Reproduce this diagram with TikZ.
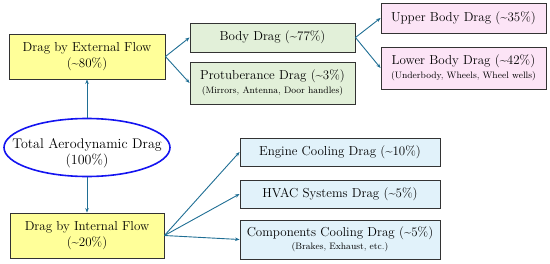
\documentclass[tikz,border=0pt]{standalone}
\usetikzlibrary{arrows.meta,shapes.geometric}
\definecolor{arr}{HTML}{1F6E94}
\definecolor{yel}{HTML}{FFFF99}
\definecolor{grn}{HTML}{E2F0D9}
\definecolor{pnk}{HTML}{FCE4F6}
\definecolor{blu}{HTML}{E1F2FA}
\definecolor{bdr}{HTML}{333333}
\definecolor{ell}{HTML}{1414F0}
\begin{document}
\begin{tikzpicture}[x=1pt,y=-1pt,
  box/.style={draw=bdr,line width=0.9pt,rectangle,inner sep=0pt,align=center,font=\fontsize{13}{16.5}\selectfont},
  ybox/.style={box,fill=yel},
  gbox/.style={box,fill=grn},
  pbox/.style={box,fill=pnk},
  bbox/.style={box,fill=blu},
  conn/.style={draw=arr,line width=0.9pt,-{Stealth[length=4.5pt,width=3.5pt]}}]
\newcommand{\smalltxt}{\fontsize{9.3}{11}\selectfont}
\useasboundingbox (0,0) rectangle (550,263);
\node[ybox,minimum width=156pt,minimum height=45pt] (ext) at (87,56.5) {Drag by External Flow\\(\textasciitilde80\%)};
\node[gbox,minimum width=165pt,minimum height=29pt] (body) at (272.5,37.5) {Body Drag (\textasciitilde77\%)};
\node[gbox,minimum width=165pt,minimum height=42pt] (prot) at (272.5,83) {Protuberance Drag (\textasciitilde3\%)\\[-3pt]{\smalltxt(Mirrors, Antenna, Door handles)}};
\node[pbox,minimum width=165pt,minimum height=30pt] (upper) at (463.5,18) {Upper Body Drag (\textasciitilde35\%)};
\node[pbox,minimum width=165pt,minimum height=42pt] (lower) at (463.5,68) {Lower Body Drag (\textasciitilde42\%)\\[-3pt]{\smalltxt(Underbody, Wheels, Wheel wells)}};
\node[ellipse,draw=ell,line width=1.6pt,minimum width=166pt,minimum height=58pt,inner sep=0pt] (total) at (87,147.5) {};
\node[align=center,inner sep=0pt,font=\fontsize{14}{16}\selectfont] (totaltxt) at (87,153) {Total Aerodynamic Drag\\(100\%)};
\node[ybox,minimum width=154pt,minimum height=45pt] (int) at (87,235.5) {Drag by Internal Flow\\(\textasciitilde20\%)};
\node[bbox,minimum width=200pt,minimum height=28pt] (eng) at (340,152) {Engine Cooling Drag (\textasciitilde10\%)};
\node[bbox,minimum width=200pt,minimum height=28pt] (hvac) at (340,194) {HVAC Systems Drag (\textasciitilde5\%)};
\node[bbox,minimum width=200pt,minimum height=39pt] (comp) at (340,239.5) {Components Cooling Drag (\textasciitilde5\%)\\[-3pt]{\smalltxt(Brakes, Exhaust, etc.)}};
\draw[conn] (total.north) -- (ext.south);
\draw[conn] (total.south) -- (int.north);
\draw[conn] (ext.east) -- (body.west);
\draw[conn] (ext.east) -- (prot.west);
\draw[conn] (body.east) -- (upper.west);
\draw[conn] (body.east) -- (lower.west);
\draw[conn] (int.east) -- (eng.west);
\draw[conn] (int.east) -- (hvac.west);
\draw[conn] (int.east) -- (comp.west);
\end{tikzpicture}
\end{document}
